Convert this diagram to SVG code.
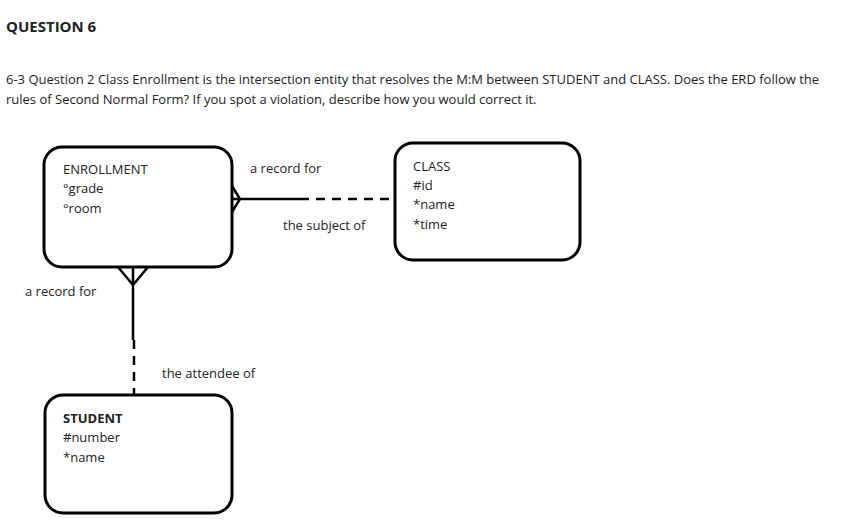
<svg xmlns="http://www.w3.org/2000/svg" width="862" height="528" viewBox="0 0 862 528">
<style>
text{font-family:"Open Sans","Noto Sans",sans-serif;font-size:13px;fill:#222}
.box{fill:#fff;stroke:#000;stroke-width:3}
.ln{fill:none;stroke:#000;stroke-width:2.5}
.dash{stroke-dasharray:9,7}
</style>
<rect width="862" height="528" fill="#fff"/>
<text x="6" y="32" style="font-size:15px;font-weight:bold">QUESTION 6</text>
<text x="6" y="84">6-3 Question 2    Class Enrollment is the intersection entity that resolves the M:M between STUDENT and CLASS. Does the ERD follow the</text>
<text x="6" y="104">rules of Second Normal Form? If you spot a violation, describe how you would correct it.</text>
<g id="connectors">
<path class="ln" d="M232 186 L240 199 L232 212 M232 199 H300"/>
<path class="ln dash" d="M300 199 H394"/>
<path class="ln" d="M118 267 L133 285 L148 267 M133 267 V340"/>
<path class="ln dash" d="M134 340 V395"/>
<text x="250" y="173">a record for</text>
<text x="283" y="230">the subject of</text>
<text x="25" y="296">a record for</text>
<text x="162" y="378">the attendee of</text>
</g>
<g id="enrollment">
<rect class="box" x="44" y="147" width="188" height="120" rx="18"/>
<text x="63" y="174">ENROLLMENT</text>
<text x="63" y="193">°grade</text>
<text x="63" y="213">°room</text>
</g>
<g id="class">
<rect class="box" x="395" y="143" width="185" height="117" rx="18"/>
<text x="413" y="171">CLASS</text>
<text x="413" y="190">#id</text>
<text x="413" y="209">*name</text>
<text x="413" y="229">*time</text>
</g>
<g id="student">
<rect class="box" x="45" y="395" width="187" height="118" rx="18"/>
<text x="63" y="423" style="font-weight:bold">STUDENT</text>
<text x="63" y="442">#number</text>
<text x="63" y="462">*name</text>
</g>
</svg>
